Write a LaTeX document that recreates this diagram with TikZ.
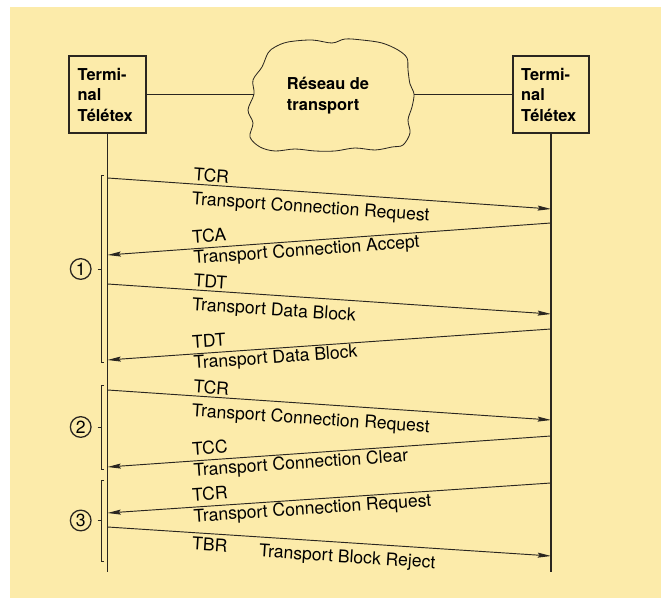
\documentclass[tikz,border=0pt]{standalone}
\usepackage{fontspec}
\setmainfont{TeX Gyre Heros}
\usepackage{tikz}
\usetikzlibrary{arrows.meta,positioning}

\definecolor{paper}{RGB}{252,235,170}
\definecolor{ink}{RGB}{42,38,32}

\tikzset{
  msg/.style={draw=ink, line width=0.8pt, -{Stealth[length=0.4cm,width=0.15cm,inset=0.06cm]}},
  back/.style={draw=ink, line width=0.8pt, {Stealth[length=0.4cm,width=0.15cm,inset=0.06cm]}-},
  life/.style={draw=ink, line width=0.9pt},
  term/.style={draw=ink, line width=1.6pt, text width=1.79cm, inner xsep=0.25cm,
    minimum height=2.31cm, align=left, font=\fontsize{14}{17.5}\selectfont\bfseries},
  tag/.style={sloped, anchor=south west, inner sep=0pt, pos=0.192, font=\fontsize{15}{18}\selectfont},
  gloss/.style={sloped, anchor=north west, inner sep=0pt, pos=0.192, font=\fontsize{15}{18}\selectfont},
  phase/.style={circle, draw=ink, line width=1.1pt, minimum size=0.62cm, inner sep=0pt,
    font=\fontsize{15}{15}\selectfont},
  brace/.style={draw=ink, line width=0.6pt}
}

\begin{document}
\begin{tikzpicture}[x=0.03cm, y=-0.03cm]
  \fill[paper] (10,7) rectangle (661,598);
  \useasboundingbox (0,0) rectangle (661,598);

  % the two terminals and the network
  \node[term] (tl) at (107.5,94.5) {Termi-\\nal\\Télétex};
  \node[term] (tr) at (551,94.5) {Termi-\\nal\\Télétex};
  \draw[ink, line width=0.7pt] plot[smooth cycle, tension=0.55] coordinates {
    (268,53) (275,47) (288,42) (312,40) (332,43) (345,39) (362,40) (382,43)
    (398,50) (407,58) (408,70) (410,84) (414,94) (412,107) (408,120) (410,133)
    (403,145) (392,147) (375,150) (355,148) (335,151) (315,151) (295,149)
    (275,151) (260,147) (250,137) (253,123) (248,110) (254,94) (253,80) (262,67)};
  \node[align=left, inner sep=0pt, font=\fontsize{14}{17.9}\selectfont\bfseries] (net) at (328,95.5)
    {Réseau de\\transport};
  \coordinate (netw) at (254,94.5);
  \coordinate (nete) at (414,94.5);
  \draw[life] (tl) -- (netw);
  \draw[life] (nete) -- (tr);

  % time lines
  \coordinate (lbot) at (107.5,572);
  \coordinate (rbot) at (551,572);
  \draw[life] (tl) -- (lbot);
  \draw[life] (tr) -- (rbot);

  % message ends
  \coordinate (a1) at (107.5,178); \coordinate (b1) at (551,209);
  \coordinate (a2) at (107.5,255); \coordinate (b2) at (551,223);
  \coordinate (a3) at (107.5,284); \coordinate (b3) at (551,314);
  \coordinate (a4) at (107.5,360); \coordinate (b4) at (551,329);
  \coordinate (a5) at (107.5,390); \coordinate (b5) at (551,420);
  \coordinate (a6) at (107.5,467); \coordinate (b6) at (551,436);
  \coordinate (a7) at (107.5,513); \coordinate (b7) at (551,483);
  \coordinate (a8) at (107.5,527); \coordinate (b8) at (551,556);

  \path
  (a1) edge[msg] node[tag, yshift=0.07cm] {TCR}
            node[gloss, yshift=-0.21cm] {Transport Connection Request} (b1)
  (a2) edge[back] node[tag, yshift=0.15cm] {TCA}
            node[gloss, yshift=-0.045cm] {Transport Connection Accept} (b2)
  (a3) edge[msg] node[tag, yshift=0.07cm] {TDT}
            node[gloss, yshift=-0.21cm] {Transport Data Block} (b3)
  (a4) edge[back] node[tag, yshift=0.15cm] {TDT}
            node[gloss, yshift=-0.045cm] {Transport Data Block} (b4)
  (a5) edge[msg] node[tag, yshift=0.07cm] {TCR}
            node[gloss, yshift=-0.21cm] {Transport Connection Request} (b5)
  (a6) edge[back] node[tag, yshift=0.15cm] {TCC}
            node[gloss, yshift=-0.045cm] {Transport Connection Clear} (b6)
  (a7) edge[back] node[tag, yshift=0.15cm] {TCR}
            node[gloss, yshift=-0.045cm] {Transport Connection Request} (b7)
  (a8) edge[msg] node[gloss, yshift=-0.12cm] {TBR}
            node[gloss, pos=0.343, yshift=-0.2cm] {Transport Block Reject} (b8);

  % phases
  \draw[brace] (104,175) -- (101,175) -- (101,362) -- (104,362);
  \draw[brace] (104,385) -- (101,385) -- (101,469) -- (104,469);
  \draw[brace] (104,480) -- (101,480) -- (101,561) -- (104,561);
  \node[phase] (p1) at (80.7,269) {1};
  \node[phase] (p2) at (80.7,427) {2};
  \node[phase] (p3) at (80.7,520.5) {3};
  \draw[brace] ([xshift=0.18cm]p1.east) -- ++(4.3,0);
  \draw[brace] ([xshift=0.18cm]p2.east) -- ++(4.3,0);
  \draw[brace] ([xshift=0.18cm]p3.east) -- ++(4.3,0);
\end{tikzpicture}
\end{document}
